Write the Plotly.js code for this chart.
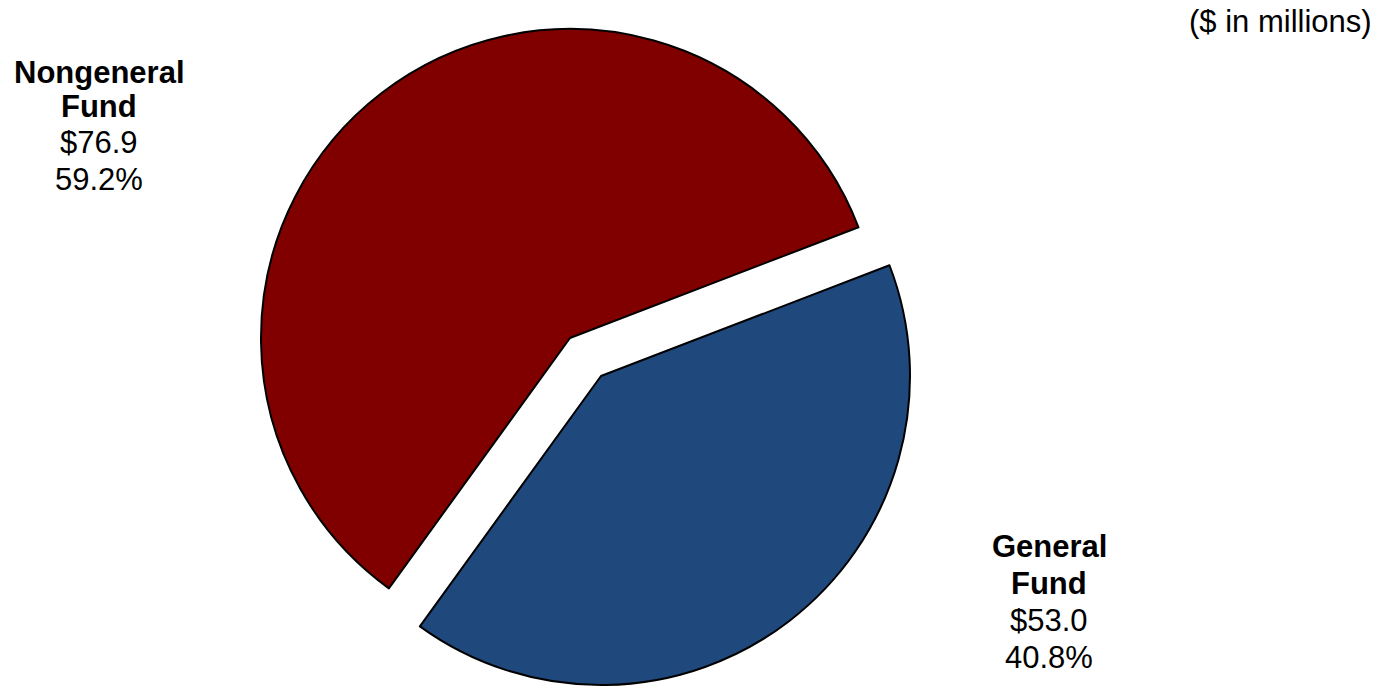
<!DOCTYPE html>
<html>
<head>
<meta charset="utf-8">
<script src="https://cdn.plot.ly/plotly-3.0.1.min.js"></script>
<style>
  html, body { margin: 0; padding: 0; background: #ffffff; }
  #chart { width: 1383px; height: 692px; }
</style>
</head>
<body>
<div id="chart"></div>
<script>
// ---- Data ----
var categories = ['General Fund', 'Nongeneral Fund'];
var labelLines = [['General', 'Fund'], ['Nongeneral', 'Fund']];
var amounts = [53.0, 76.9];          // $ in millions
var percents = [40.8, 59.2];         // share of total
var sliceColors = ['#1F497D', '#800000'];
var unitNote = '($ in millions)';

// ---- Layout helpers (pixels -> paper) ----
var W = 1383, H = 692;
function px(x) { return x / W; }
function py(y) { return 1 - y / H; }

var R = 309;
function domainAt(cx, cy) {
  return { x: [px(cx - R), px(cx + R)], y: [py(cy + R), py(cy - R)] };
}

var clear = 'rgba(0,0,0,0)';
var common = {
  type: 'pie',
  labels: categories,
  values: amounts,
  sort: false,
  direction: 'clockwise',
  rotation: 69,
  textinfo: 'none',
  hoverinfo: 'label+value+percent',
  showlegend: false
};

// Nongeneral Fund slice (in place)
var traceNon = Object.assign({}, common, {
  domain: domainAt(570, 338),
  marker: { colors: [clear, sliceColors[1]], line: { color: '#000000', width: [0, 2] } }
});
// General Fund slice (exploded)
var traceGen = Object.assign({}, common, {
  domain: domainAt(601, 376),
  marker: { colors: [sliceColors[0], clear], line: { color: '#000000', width: [2, 0] } }
});

var FS = 31;
var font = { family: 'Liberation Sans, Arial, sans-serif', size: FS, color: '#000000' };
function ann(text, x, y, xa) {
  return { text: text, x: px(x), y: py(y), xref: 'paper', yref: 'paper',
           xanchor: xa || 'center', yanchor: 'middle', showarrow: false, font: font };
}

var labelPos = [
  { x: 1049, ys: [546.5, 583.5, 620, 657.5] },
  { x: 99,   ys: [72.8, 106.8, 142.2, 179.5] }
];
var annotations = [];
for (var i = 0; i < categories.length; i++) {
  var p = labelPos[i];
  annotations.push(ann('<b>' + labelLines[i][0] + '</b>', p.x, p.ys[0]));
  annotations.push(ann('<b>' + labelLines[i][1] + '</b>', p.x, p.ys[1]));
  annotations.push(ann('$' + amounts[i].toFixed(1), p.x, p.ys[2]));
  annotations.push(ann(percents[i].toFixed(1) + '%', p.x, p.ys[3]));
}
annotations.push(ann(unitNote, 1280.7, 21));

var layout = {
  width: W, height: H,
  margin: { l: 0, r: 0, t: 0, b: 0 },
  paper_bgcolor: '#ffffff',
  plot_bgcolor: '#ffffff',
  annotations: annotations
};

Plotly.newPlot('chart', [traceNon, traceGen], layout, { displayModeBar: false, staticPlot: true });
</script>
</body>
</html>
